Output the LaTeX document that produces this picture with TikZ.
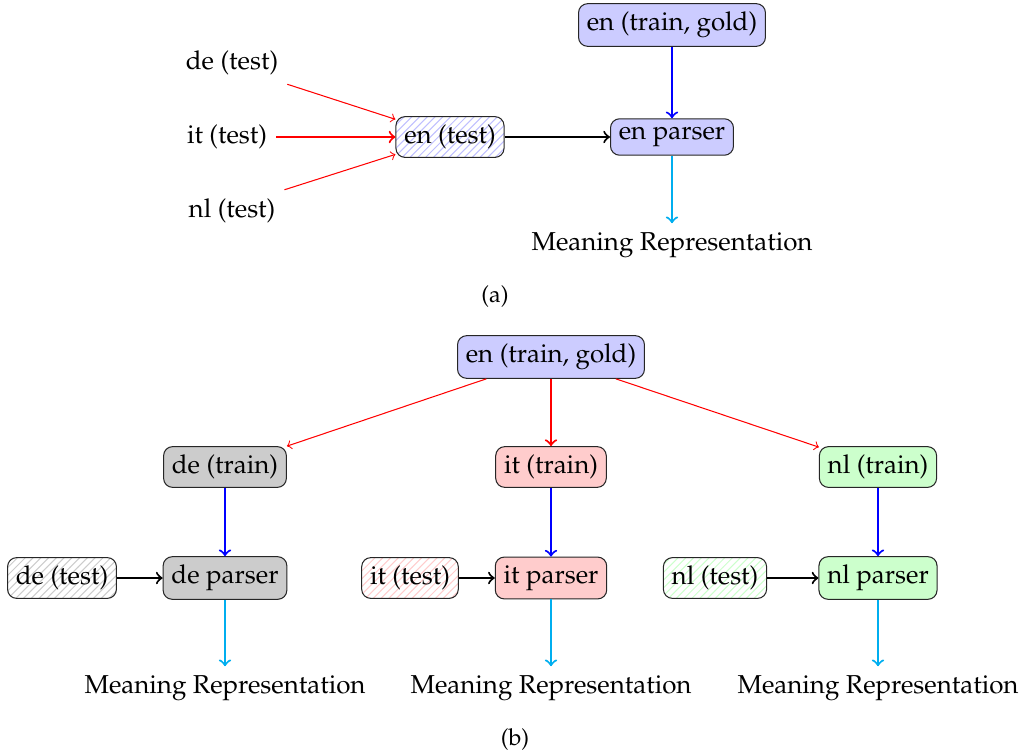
\documentclass[tikz,border=0pt]{standalone}
\usepackage[T1]{fontenc}
\usepackage{mathpazo}
\usepackage{tikz}
\usetikzlibrary{patterns}
\definecolor{mrcyan}{RGB}{0,174,239}

\begin{document}
\begin{tikzpicture}[x=0.386pt, y=-0.386pt, ->,
      every node/.append style={font=\normalsize}]
    \tikzstyle{box} = [draw=black!85, rounded corners=3.5pt, inner sep=3.2pt]
    \tikzstyle{test} = [box, pattern=north east lines]
    \tikzstyle{gold} = [thick, blue]
    \tikzstyle{parse} = [thick, mrcyan]
    \tikzstyle{feed} = [thick, black]
    \useasboundingbox (0,0) rectangle (1032,754);
    % (a)
    \node (de_a) at (232,63) {de (test)};
    \node (it_a) at (227,137) {it (test)};
    \node (nl_a) at (232,211) {nl (test)};
    \node [test, pattern color=blue!25] (en_test) at (450,137) {en (test)};
    \node [box, fill=blue!20] (en_parser_a) at (672,137) {en parser};
    \node [box, fill=blue!20] (en_gold_a) at (672,25) {en (train, gold)};
    \node (mr_a) at (672,245) {Meaning Representation};
    \node [font=\small] (cap_a) at (495,297) {(a)};
    \draw [red] (de_a.south east) to (en_test);
    \draw [red, thick] (it_a) to (en_test);
    \draw [red] (nl_a.north east) to (en_test);
    \draw [feed] (en_test) to (en_parser_a);
    \draw [gold] (en_gold_a) to (en_parser_a);
    \draw [parse] (en_parser_a) to (mr_a);
    % (b)
    \node [box, fill=blue!20] (en_gold) at (551,357) {en (train, gold)};
    \node [box, fill=black!20] (de_train) at (225,467) {de (train)};
    \node [box, fill=red!20] (it_train) at (551,467) {it (train)};
    \node [box, fill=green!20] (nl_train) at (878,467) {nl (train)};
    \node [test, pattern color=black!20] (de_test) at (62,578) {de (test)};
    \node [box, fill=black!20] (de_parser) at (225,578) {de parser};
    \node [test, pattern color=red!20] (it_test) at (410,578) {it (test)};
    \node [box, fill=red!20] (it_parser) at (551,578) {it parser};
    \node [test, pattern color=green!20] (nl_test) at (715,578) {nl (test)};
    \node [box, fill=green!20] (nl_parser) at (878,578) {nl parser};
    \node (mr_de) at (225,688) {Meaning Representation};
    \node (mr_it) at (551,688) {Meaning Representation};
    \node (mr_nl) at (878,688) {Meaning Representation};
    \node [font=\small] (cap_b) at (515,740) {(b)};
    \draw [red] (en_gold) to (de_train);
    \draw [red, thick] (en_gold) to (it_train);
    \draw [red] (en_gold) to (nl_train);
    \draw [gold] (de_train) to (de_parser);
    \draw [gold] (it_train) to (it_parser);
    \draw [gold] (nl_train) to (nl_parser);
    \draw [feed] (de_test) to (de_parser);
    \draw [feed] (it_test) to (it_parser);
    \draw [feed] (nl_test) to (nl_parser);
    \draw [parse] (de_parser) to (mr_de);
    \draw [parse] (it_parser) to (mr_it);
    \draw [parse] (nl_parser) to (mr_nl);
\end{tikzpicture}
\end{document}
